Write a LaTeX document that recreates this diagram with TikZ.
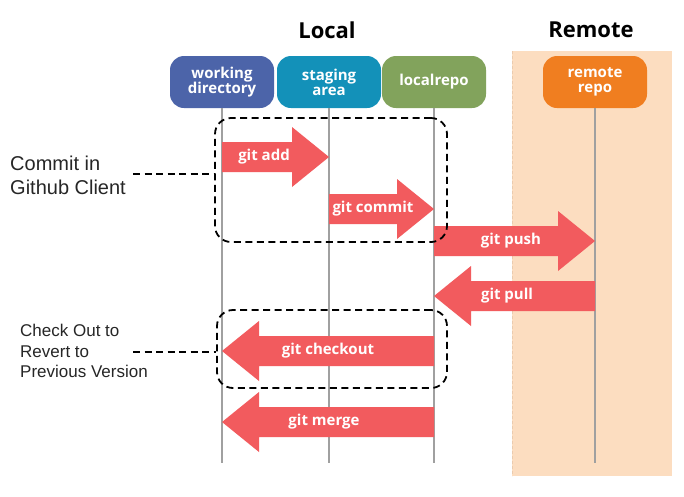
\documentclass[tikz,border=0pt]{standalone}
\usepackage{fontspec}
\setmainfont{Open Sans}
\newfontfamily\notefont{Liberation Sans}
\usetikzlibrary{calc}

\definecolor{wdblue}{HTML}{4C64A9}
\definecolor{sateal}{HTML}{1391B9}
\definecolor{lrgreen}{HTML}{82A35C}
\definecolor{rrorange}{HTML}{F07E20}
\definecolor{flowred}{HTML}{F25B5E}
\definecolor{remotebg}{HTML}{FCDDC0}
\definecolor{remoteedge}{HTML}{EBCBAE}
\definecolor{lifegray}{HTML}{A0A0A0}
\definecolor{notegray}{HTML}{262626}

% right-pointing fat arrow from lifeline #1 to lifeline #2, centred at height #3
\newcommand\flowright[3]{%
  \fill[flow] (#1.south |- 0,#3-15) -- ($(#2.south |- 0,#3-15)+(-37,0)$)
    -- ($(#2.south |- 0,#3-30)+(-37,0)$) -- (#2.south |- 0,#3)
    -- ($(#2.south |- 0,#3+30)+(-37,0)$) -- ($(#2.south |- 0,#3+15)+(-37,0)$)
    -- (#1.south |- 0,#3+15) -- cycle;}
% left-pointing fat arrow from lifeline #1 to lifeline #2, centred at height #3
\newcommand\flowleft[3]{%
  \fill[flow] (#1.south |- 0,#3-15) -- ($(#2.south |- 0,#3-15)+(37,0)$)
    -- ($(#2.south |- 0,#3-30)+(37,0)$) -- (#2.south |- 0,#3)
    -- ($(#2.south |- 0,#3+30)+(37,0)$) -- ($(#2.south |- 0,#3+15)+(37,0)$)
    -- (#1.south |- 0,#3+15) -- cycle;}

\begin{document}
\begin{tikzpicture}[x=1pt,y=-1pt,
  stage/.style={draw=none, rounded corners=14pt, minimum width=104pt,
    minimum height=52pt, text=white, align=center, inner sep=2pt,
    font=\bfseries\fontsize{15}{18}\selectfont},
  life/.style={draw=lifegray, line width=1.2pt},
  flow/.style={fill=flowred},
  flowlabel/.style={text=white, font=\bfseries\fontsize{15}{17}\selectfont, inner sep=0pt},
  title/.style={font=\bfseries\fontsize{22}{26}\selectfont},
  group/.style={draw=black, line width=1.8pt, dash pattern=on 7pt off 4.5pt,
    rounded corners=16pt, inner sep=0pt},
  leader/.style={draw=black, line width=1.8pt, dash pattern=on 7pt off 4.5pt},
  note/.style={align=left, anchor=west, inner sep=0pt, text=notegray}]

\useasboundingbox (0,0) rectangle (684,496);
\fill[white] (0,0) rectangle (684,496);

% remote side
\fill[remotebg] (512,51) rectangle (672,476);
\draw[remoteedge, line width=0.8pt, dash pattern=on 3pt off 2pt] (512,51) -- (512,476);

% titles
\node[title] (local) at (327,30) {Local};
\node[title] (remote) at (591,30) {Remote};

% stages
\node[stage, fill=wdblue] (wd) at (222,82) {working\\[-3pt]directory};
\node[stage, fill=sateal] (sa) at (329,82) {staging\\[-3pt]area};
\node[stage, fill=lrgreen] (lr) at (434,82) {localrepo};
\node[stage, fill=rrorange] (rr) at (595,82) {remote\\[-3pt]repo};

% lifelines
\coordinate (wd-end) at (222,463);
\coordinate (sa-end) at (329,463);
\coordinate (lr-end) at (434,463);
\coordinate (rr-end) at (595,463);
\draw[life] (wd.south) -- (wd-end);
\draw[life] (sa.south) -- (sa-end);
\draw[life] (lr.south) -- (lr-end);
\draw[life] (rr.south) -- (rr-end);

% commands
\flowright{wd}{sa}{157}
\node[flowlabel] (add) at (264,157) {git add};
\flowright{sa}{lr}{209}
\node[flowlabel] (commit) at (373,209) {git commit};
\flowright{lr}{rr}{241}
\node[flowlabel] (push) at (511,241) {git push};
\flowleft{rr}{lr}{296}
\node[flowlabel] (pull) at (507,296) {git pull};
\flowleft{lr}{wd}{351}
\node[flowlabel] (checkout) at (328,351) {git checkout};
\flowleft{lr}{wd}{422}
\node[flowlabel] (merge) at (324,422) {git merge};

% annotation groups
\node[group, minimum width=232pt, minimum height=124pt] (grp1) at (331,180) {};
\node[group, minimum width=230pt, minimum height=78pt] (grp2) at (332,349) {};

\node[note, font=\notefont\fontsize{20}{24}\selectfont] (n1) at (10,175)
  {Commit in\\Github Client};
\node[note, font=\notefont\fontsize{17}{20.5}\selectfont] (n2) at (20,351)
  {Check Out to\\Revert to\\Previous Version};
\coordinate (l1) at (133,174);
\coordinate (l2) at (133,352);
\draw[leader] (l1) -- (grp1.west |- l1);
\draw[leader] (l2) -- (grp2.west |- l2);

\end{tikzpicture}
\end{document}
